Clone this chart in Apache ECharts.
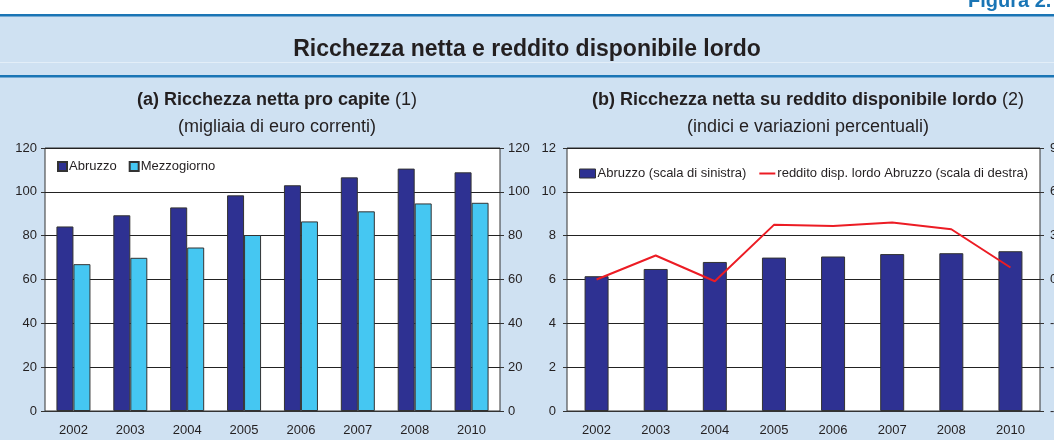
<!DOCTYPE html>
<html style="height: 100%" lang="it">
<head>
    <meta charset="utf-8">
    <script type="text/javascript" src="https://cdn.jsdelivr.net/npm/echarts@6/dist/echarts.min.js"></script>
    <title>Ricchezza netta e reddito disponibile lordo</title>
</head>
<body style="height: 100%; margin: 0">
<div id="container" style="width: 1054px; height: 440px"></div>
</body>
<script type="text/javascript">
    // dati
    let anni = ['2002', '2003', '2004', '2005', '2006', '2007', '2008', '2010'];
    let ricchezzaAbruzzo = [84.2, 89.3, 92.9, 98.4, 103.0, 106.6, 110.6, 108.9];
    let ricchezzaMezzogiorno = [67.0, 69.9, 74.6, 80.3, 86.5, 91.1, 94.7, 95.0];
    let rapportoAbruzzo = [6.15, 6.48, 6.80, 7.00, 7.05, 7.16, 7.20, 7.29];
    let redditoVar = [0.0, 1.64, -0.12, 3.74, 3.67, 3.90, 3.44, 0.82];

    let dom = document.getElementById("container");
    let myChart = echarts.init(dom);
    let font = 'Liberation Sans, Arial, sans-serif';
    let blu = '#1a75b5';
    let testo = '#231f20';

    let yLabel = {color: testo, fontSize: 13, fontFamily: font, margin: 8};
    let xLabel = {color: testo, fontSize: 13, fontFamily: font, margin: 13};
    let splitLine = {show: true, lineStyle: {color: '#222', width: 1}};
    let tick = {show: true, inside: false, length: 4, lineStyle: {color: '#333'}};
    let richTitolo = {
        b: {fontSize: 18, fontWeight: 'bold', color: testo, fontFamily: font},
        n: {fontSize: 18, fontWeight: 'normal', color: testo, fontFamily: font}
    };

    let option = {
        backgroundColor: '#cfe1f2',
        animation: false,
        textStyle: {fontFamily: font},
        graphic: [
            {type: 'rect', shape: {x: 0, y: 0, width: 1054, height: 14}, style: {fill: '#fff'}, silent: true},
            {type: 'rect', shape: {x: 0, y: 14, width: 1054, height: 2.5}, style: {fill: blu}, silent: true},
            {type: 'rect', shape: {x: 0, y: 62, width: 1054, height: 1}, style: {fill: '#e3eef8'}, silent: true},
            {type: 'rect', shape: {x: 0, y: 75, width: 1054, height: 2.5}, style: {fill: blu}, silent: true},
            {type: 'text', left: 968, top: -9, style: {text: 'Figura 2.', fill: blu, font: 'bold 20px ' + font}},
            {type: 'text', left: 'center', top: 38, style: {text: 'Ricchezza netta e reddito disponibile lordo', fill: testo, font: 'bold 23px ' + font}}
        ],
        title: [
            {
                text: '{b|(a) Ricchezza netta pro capite} {n|(1)}',
                subtext: '(migliaia di euro correnti)',
                left: 272, top: 86, textAlign: 'center', itemGap: 9,
                textStyle: {rich: richTitolo},
                subtextStyle: {fontSize: 18, color: testo, fontFamily: font}
            },
            {
                text: '{b|(b) Ricchezza netta su reddito disponibile lordo} {n|(2)}',
                subtext: '(indici e variazioni percentuali)',
                left: 803, top: 86, textAlign: 'center', itemGap: 9,
                textStyle: {rich: richTitolo},
                subtextStyle: {fontSize: 18, color: testo, fontFamily: font}
            }
        ],
        legend: [
            {
                data: ['Abruzzo', 'Mezzogiorno'],
                left: 57, top: 160, padding: 0, itemWidth: 9, itemHeight: 9, itemGap: 12,
                icon: 'rect',
                textStyle: {fontSize: 13, color: testo, fontFamily: font, padding: [0, 0, 0, -3]}
            },
            {
                data: [
                    {name: 'Abruzzo (scala di sinistra)', icon: 'rect', itemStyle: {borderWidth: 1, borderColor: '#333'}},
                    {name: 'reddito disp. lordo Abruzzo (scala di destra)', itemStyle: {opacity: 0}}
                ],
                left: 579, top: 167, padding: 0, itemWidth: 16, itemHeight: 9, itemGap: 12,
                textStyle: {fontSize: 13, color: testo, fontFamily: font, padding: [0, 0, 0, -3]}
            }
        ],
        grid: [
            {left: 45, top: 148, width: 455, height: 263, show: true, backgroundColor: '#fff', borderColor: '#333', borderWidth: 1,
                outerBoundsMode: 'none', containLabel: false},
            {left: 567, top: 148, width: 473, height: 263, show: true, backgroundColor: '#fff', borderColor: '#333', borderWidth: 1,
                outerBoundsMode: 'none', containLabel: false}
        ],
        xAxis: [
            {type: 'category', data: anni, gridIndex: 0, axisTick: {show: false}, axisLabel: xLabel,
                axisLine: {lineStyle: {color: '#333'}}},
            {type: 'category', data: anni, gridIndex: 1, axisTick: {show: false}, axisLabel: xLabel,
                axisLine: {lineStyle: {color: '#333'}}}
        ],
        yAxis: [
            {type: 'value', gridIndex: 0, min: 0, max: 120, interval: 20, position: 'left',
                axisLabel: yLabel, splitLine: splitLine, axisTick: tick, axisLine: {show: false}},
            {type: 'value', gridIndex: 0, min: 0, max: 120, interval: 20, position: 'right',
                axisLabel: yLabel, splitLine: {show: false}, axisTick: tick, axisLine: {show: false}},
            {type: 'value', gridIndex: 1, min: 0, max: 12, interval: 2, position: 'left',
                axisLabel: Object.assign({}, yLabel, {margin: 11}), splitLine: splitLine, axisTick: tick, axisLine: {show: false}},
            {type: 'value', gridIndex: 1, min: -9, max: 9, interval: 3, position: 'right',
                axisLabel: Object.assign({}, yLabel, {margin: 10}), splitLine: {show: false}, axisTick: tick, axisLine: {show: false}}
        ],
        series: [
            {
                name: 'Abruzzo', type: 'bar', xAxisIndex: 0, yAxisIndex: 0,
                data: ricchezzaAbruzzo, barWidth: 17, barGap: '0%',
                itemStyle: {color: '#2e3192', borderColor: '#333', borderWidth: 1}
            },
            {
                name: 'Mezzogiorno', type: 'bar', xAxisIndex: 0, yAxisIndex: 0,
                data: ricchezzaMezzogiorno, barWidth: 17, barGap: '0%',
                itemStyle: {color: '#45c7f2', borderColor: '#333', borderWidth: 1}
            },
            {
                name: 'Abruzzo (scala di sinistra)', type: 'bar', xAxisIndex: 1, yAxisIndex: 2,
                data: rapportoAbruzzo, barWidth: 24,
                itemStyle: {color: '#2e3192', borderColor: '#333', borderWidth: 1}
            },
            {
                name: 'reddito disp. lordo Abruzzo (scala di destra)', type: 'line', xAxisIndex: 1, yAxisIndex: 3,
                data: redditoVar, symbol: 'none', z: 5,
                lineStyle: {color: '#ec1c24', width: 2}, itemStyle: {color: '#ec1c24'}
            }
        ]
    };
    myChart.setOption(option);
</script>
</html>
